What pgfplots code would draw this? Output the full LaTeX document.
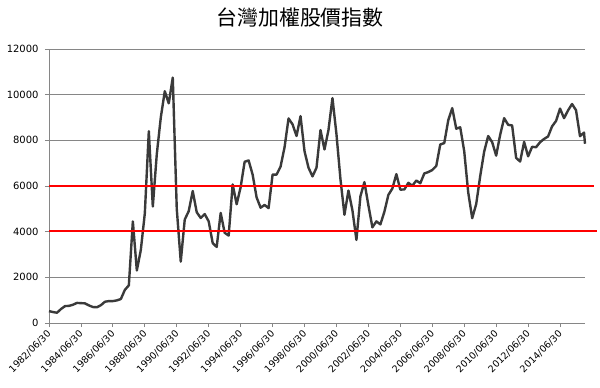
\documentclass[border=0pt]{standalone}
\usepackage{fontspec}
\setmainfont{DejaVu Sans}
\newfontfamily\cjk{Noto Sans CJK TC}
\usepackage{pgfplots}
\pgfplotsset{compat=1.18}
\usepackage{pgfplotstable}

\pgfplotstableread{
q v
0 520
1 480
2 450
3 610
4 740
5 750
6 800
7 880
8 870
9 860
10 770
11 700
12 690
13 780
14 930
15 960
16 960
17 990
18 1050
19 1450
20 1650
21 4450
22 2300
23 3200
24 4800
25 8400
26 5100
27 7400
28 9000
29 10150
30 9620
31 10750
32 5000
33 2690
34 4530
35 4900
36 5780
37 4850
38 4600
39 4770
40 4450
41 3500
42 3330
43 4820
44 3950
45 3830
46 6070
47 5200
48 5950
49 7060
50 7120
51 6500
52 5500
53 5050
54 5170
55 5030
56 6500
57 6500
58 6850
59 7700
60 8960
61 8700
62 8190
63 9060
64 7520
65 6800
66 6420
67 6800
68 8450
69 7600
70 8450
71 9850
72 8265
73 6300
74 4740
75 5800
76 4930
77 3640
78 5550
79 6170
80 5150
81 4190
82 4450
83 4320
84 4870
85 5610
86 5890
87 6520
88 5840
89 5850
90 6140
91 6010
92 6240
93 6120
94 6550
95 6610
96 6700
97 6880
98 7820
99 7880
100 8880
101 9410
102 8510
103 8570
104 7520
105 5720
106 4590
107 5210
108 6430
109 7510
110 8190
111 7920
112 7330
113 8240
114 8970
115 8680
116 8650
117 7230
118 7070
119 7930
120 7300
121 7715
122 7700
123 7920
124 8060
125 8170
126 8610
127 8850
128 9390
129 8970
130 9310
131 9590
132 9320
133 8180
134 8340
134.25 7850
}\taiex

\pgfplotstableread{
x y
0 4030
137.2 4030
}\redlow
\pgfplotstableread{
x y
0 6000
136.6 6000
}\redhigh

\definecolor{gridgray}{RGB}{134,134,134}
\definecolor{linegray}{RGB}{58,58,58}
\definecolor{redline}{RGB}{255,0,0}

\begin{document}
\begin{tikzpicture}
\useasboundingbox (-49bp,-65bp) rectangle (551bp,323bp);
\begin{axis}[
  at={(0,0)}, anchor=south west,
  scale only axis, width=536bp, height=274bp,
  xmin=0, xmax=134.25, ymin=0, ymax=12000,
  axis x line=bottom, axis y line=left,
  axis line style={-, draw=gridgray, line width=0.8bp},
  ytick={0,2000,...,12000},
  ymajorgrids, grid style={draw=gridgray, line width=0.8bp},
  xtick={0,8,...,128},
  xticklabels={1982/06/30,1984/06/30,1986/06/30,1988/06/30,1990/06/30,1992/06/30,1994/06/30,1996/06/30,1998/06/30,2000/06/30,2002/06/30,2004/06/30,2006/06/30,2008/06/30,2010/06/30,2012/06/30,2014/06/30},
  tick align=outside, major tick length=4bp,
  tick style={draw=gridgray, line width=0.8bp},
  xticklabel style={rotate=45, anchor=east, yshift=-4bp, font=\fontsize{9.5}{11}\selectfont},
  yticklabel style={xshift=-3bp, font=\fontsize{10}{12}\selectfont},
  /pgf/number format/assume math mode=true,
  /pgf/number format/1000 sep={},
  scaled y ticks=false,
  clip=false,
]
\addplot[draw=linegray, line width=2.4bp, line join=round] table[x=q,y=v]{\taiex};
\addplot[draw=redline, line width=1.4bp] table[x=x,y=y]{\redhigh};
\addplot[draw=redline, line width=1.4bp] table[x=x,y=y]{\redlow};
\end{axis}
\node at (251bp,305bp) {\cjk\fontsize{21}{25}\selectfont 台灣加權股價指數};
\end{tikzpicture}
\end{document}
